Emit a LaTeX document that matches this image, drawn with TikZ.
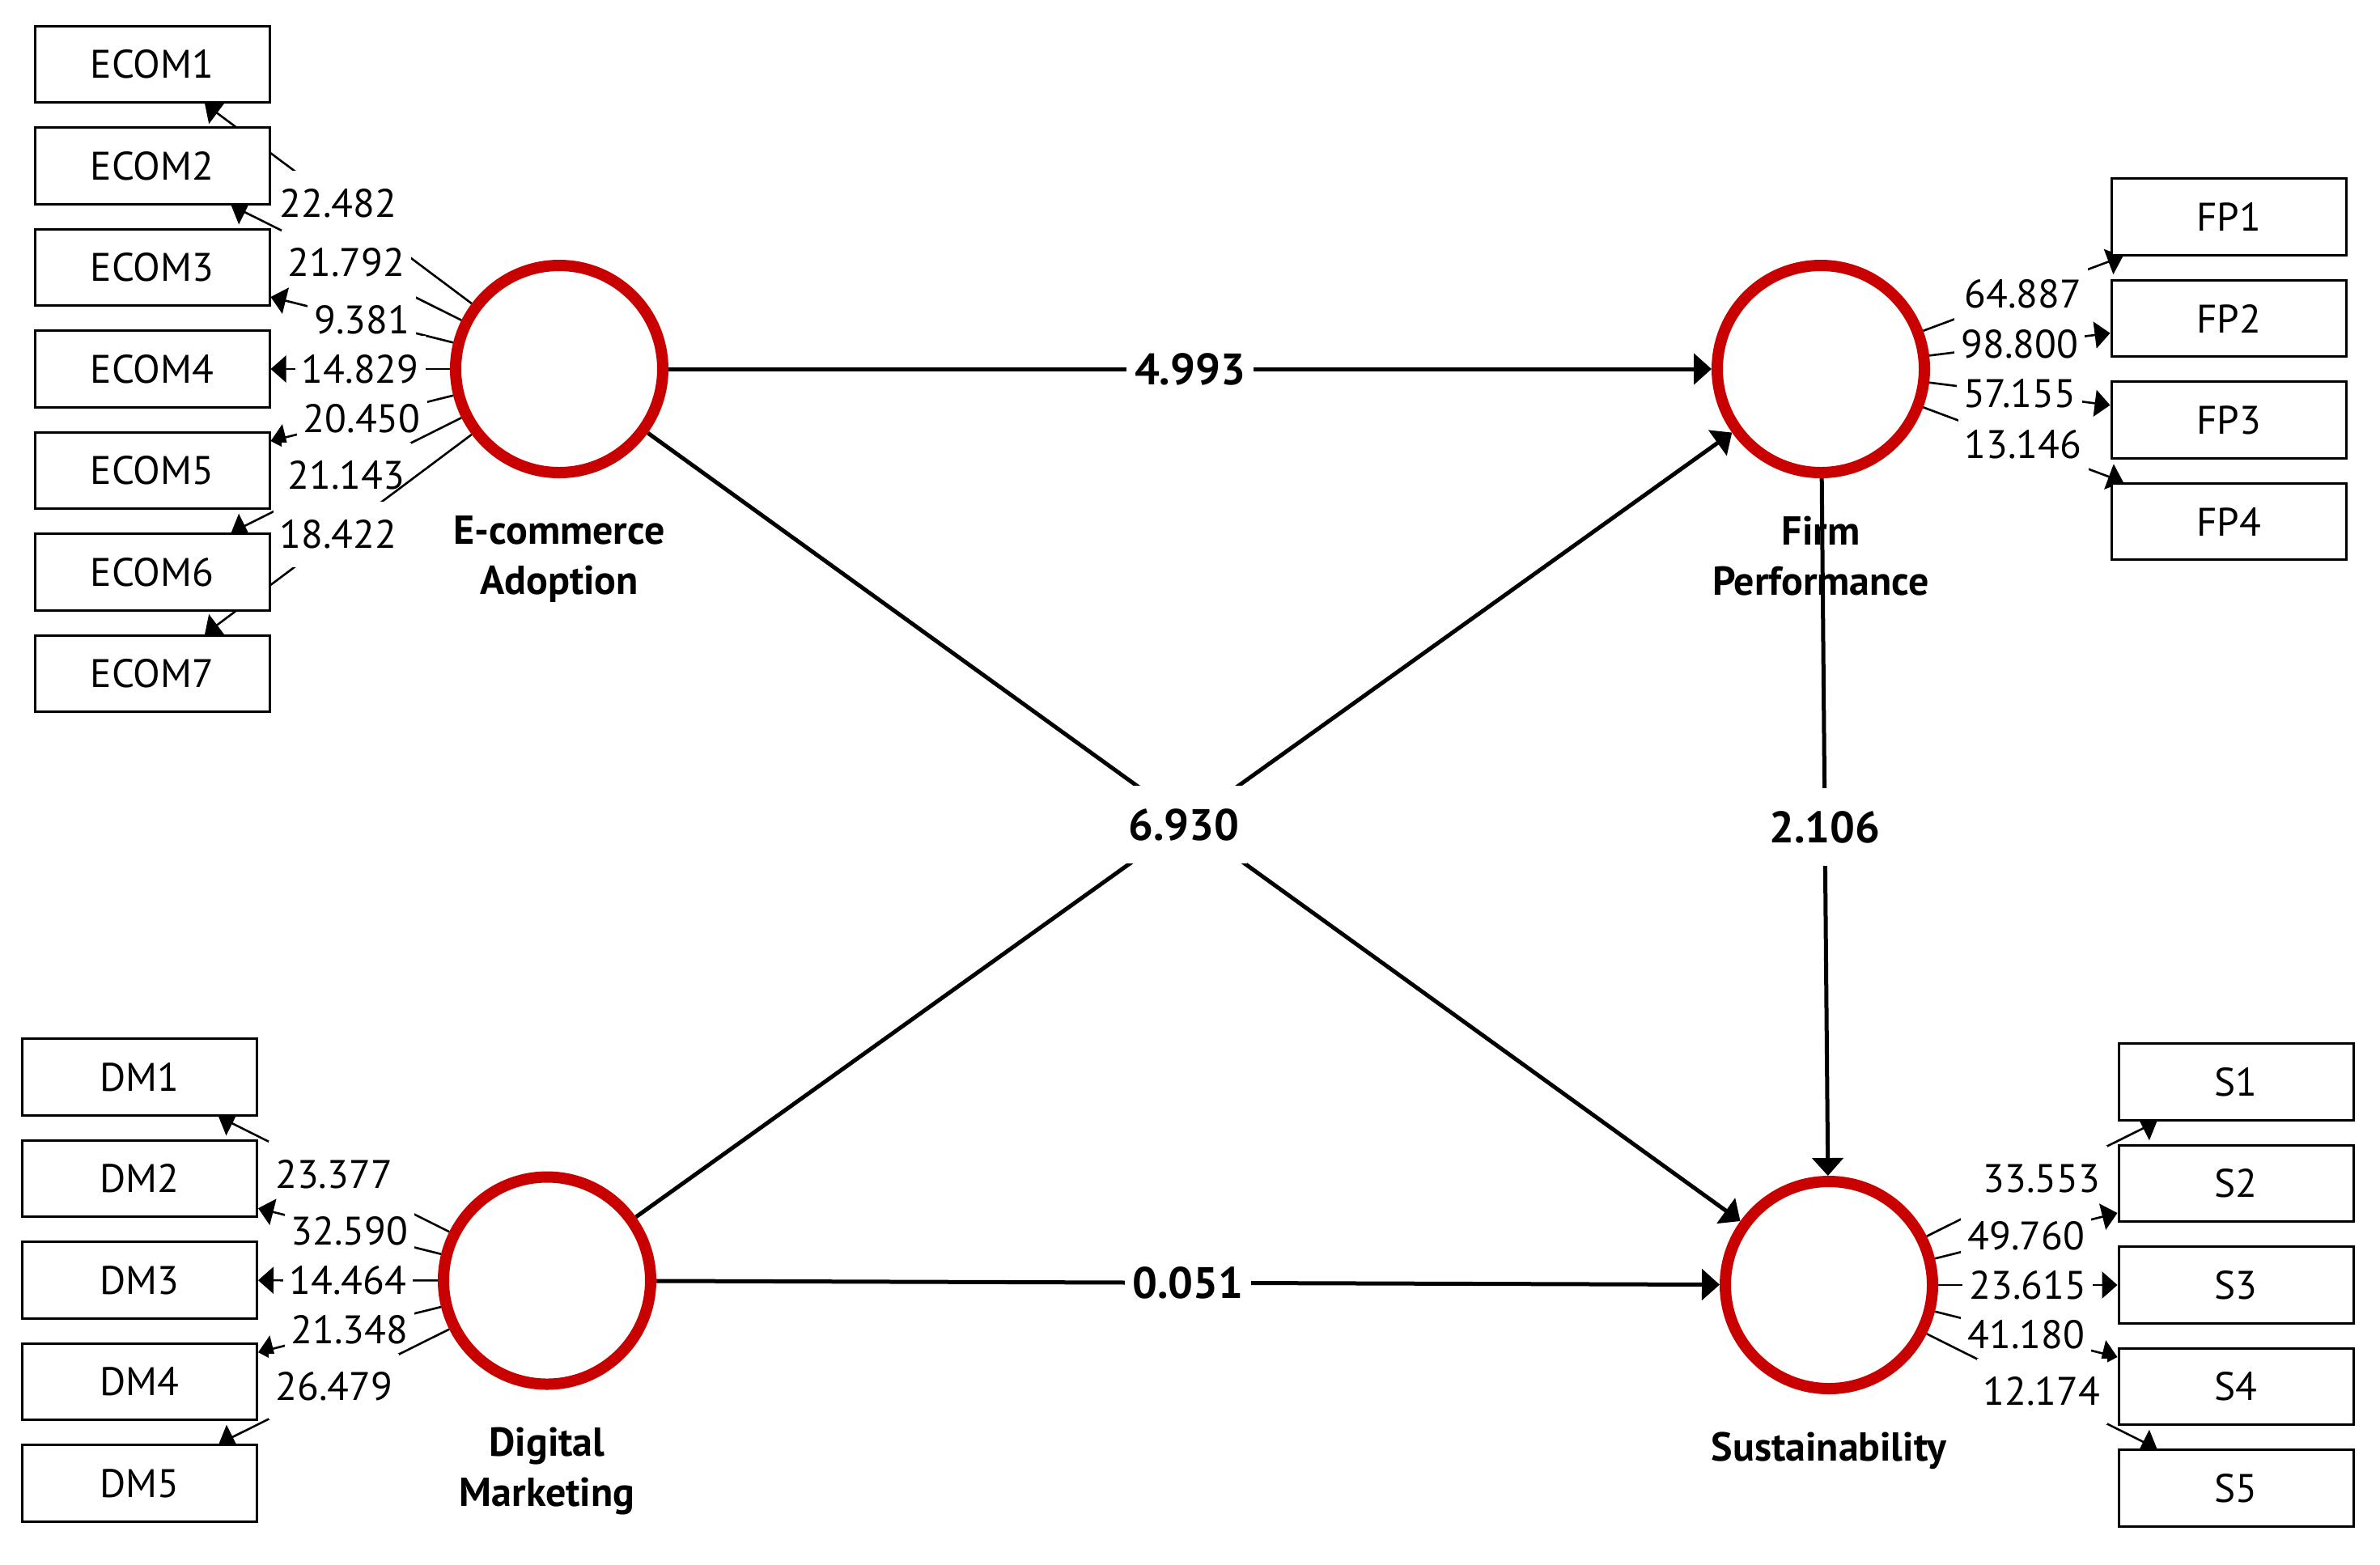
\documentclass[tikz,border=0pt]{standalone}
\usepackage{fontspec}
\setmainfont{PT Sans}
\usetikzlibrary{arrows.meta,positioning,backgrounds}

\definecolor{lvred}{RGB}{200,0,0}

\tikzset{
  latent/.style={circle, draw=lvred, line width=1.4mm, minimum size=2.56cm, inner sep=0pt},
  lvname/.style={align=center, inner sep=0pt, font=\fontsize{14.2}{17.6}\selectfont\bfseries},
  indicator/.style={draw=black, line width=0.3mm, fill=white, minimum width=2.9cm,
    minimum height=0.945cm, inner sep=0pt, font=\fontsize{14}{17}\selectfont},
  loading/.style={black, line width=0.26mm, -{Triangle[length=1.9mm,width=3.3mm]}},
  loadval/.style={midway, fill=white, inner xsep=2.3pt, inner ysep=6.5pt, font=\fontsize{14}{17}\selectfont},
  structural/.style={black, line width=0.5mm, -{Triangle[length=2.2mm,width=3.8mm]}},
  pathval/.style={midway, fill=white, inner xsep=2.8pt, inner ysep=8pt, font=\fontsize{15.5}{18}\selectfont\bfseries}
}

\begin{document}
\begin{tikzpicture}
	\useasboundingbox (0, 0) rectangle (29.41, -19.33);

	% Latent variables
	\node[latent] (ecom) at (6.91, -4.56) {};
	\node[latent] (firm) at (22.50, -4.56) {};
	\node[latent] (dm) at (6.76, -15.825) {};
	\node[latent] (sust) at (22.60, -15.88) {};

	\node[lvname, below=0.46cm of ecom] (ecomname) {E-commerce\\Adoption};
	\node[lvname, below=0.46cm of firm] (firmname) {Firm\\Performance};
	\node[lvname, below=0.46cm of dm] (dmname) {Digital\\Marketing};
	\node[lvname, below=0.46cm of sust] (sustname) {Sustainability};

	% E-commerce indicators
	\node[indicator] (ecom1) at (1.88, -0.795) {ECOM1};
	\node[indicator] (ecom2) at (1.88, -2.05) {ECOM2};
	\node[indicator] (ecom3) at (1.88, -3.305) {ECOM3};
	\node[indicator] (ecom4) at (1.88, -4.56) {ECOM4};
	\node[indicator] (ecom5) at (1.88, -5.815) {ECOM5};
	\node[indicator] (ecom6) at (1.88, -7.07) {ECOM6};
	\node[indicator] (ecom7) at (1.88, -8.325) {ECOM7};

	% Firm performance indicators
	\node[indicator] (fp1) at (27.54, -2.68) {FP1};
	\node[indicator] (fp2) at (27.54, -3.935) {FP2};
	\node[indicator] (fp3) at (27.54, -5.19) {FP3};
	\node[indicator] (fp4) at (27.54, -6.445) {FP4};

	% Digital marketing indicators
	\node[indicator] (dm1) at (1.725, -13.31) {DM1};
	\node[indicator] (dm2) at (1.725, -14.565) {DM2};
	\node[indicator] (dm3) at (1.725, -15.82) {DM3};
	\node[indicator] (dm4) at (1.725, -17.075) {DM4};
	\node[indicator] (dm5) at (1.725, -18.33) {DM5};

	% Sustainability indicators
	\node[indicator] (s1) at (27.63, -13.37) {S1};
	\node[indicator] (s2) at (27.63, -14.625) {S2};
	\node[indicator] (s3) at (27.63, -15.88) {S3};
	\node[indicator] (s4) at (27.63, -17.135) {S4};
	\node[indicator] (s5) at (27.63, -18.39) {S5};

	\begin{pgfonlayer}{background}
		% Outer loadings
		\draw[loading] (ecom) -- node[loadval] {22.482} (ecom1);
		\draw[loading] (ecom) -- node[loadval] {21.792} (ecom2);
		\draw[loading] (ecom) -- node[loadval] {9.381} (ecom3);
		\draw[loading] (ecom) -- node[loadval] {14.829} (ecom4);
		\draw[loading] (ecom) -- node[loadval] {20.450} (ecom5);
		\draw[loading] (ecom) -- node[loadval] {21.143} (ecom6);
		\draw[loading] (ecom) -- node[loadval] {18.422} (ecom7);

		\draw[loading] (firm) -- node[loadval] {64.887} (fp1);
		\draw[loading] (firm) -- node[loadval] {98.800} (fp2);
		\draw[loading] (firm) -- node[loadval] {57.155} (fp3);
		\draw[loading] (firm) -- node[loadval] {13.146} (fp4);

		\draw[loading] (dm) -- node[loadval] {23.377} (dm1);
		\draw[loading] (dm) -- node[loadval] {32.590} (dm2);
		\draw[loading] (dm) -- node[loadval] {14.464} (dm3);
		\draw[loading] (dm) -- node[loadval] {21.348} (dm4);
		\draw[loading] (dm) -- node[loadval] {26.479} (dm5);

		\draw[loading] (sust) -- node[loadval] {33.553} (s1);
		\draw[loading] (sust) -- node[loadval] {49.760} (s2);
		\draw[loading] (sust) -- node[loadval] {23.615} (s3);
		\draw[loading] (sust) -- node[loadval] {41.180} (s4);
		\draw[loading] (sust) -- node[loadval] {12.174} (s5);

		% Inner paths
		\draw[structural] (ecom) -- node[pathval] {4.993} (firm);
		\draw[structural] (ecom) -- (sust);
		\draw[structural] (dm) -- node[pathval] {6.930} (firm);
		\draw[structural] (dm) -- node[pathval] {0.051} (sust);
		\draw[structural] (firm) -- node[pathval] {2.106} (sust);
	\end{pgfonlayer}
\end{tikzpicture}
\end{document}
